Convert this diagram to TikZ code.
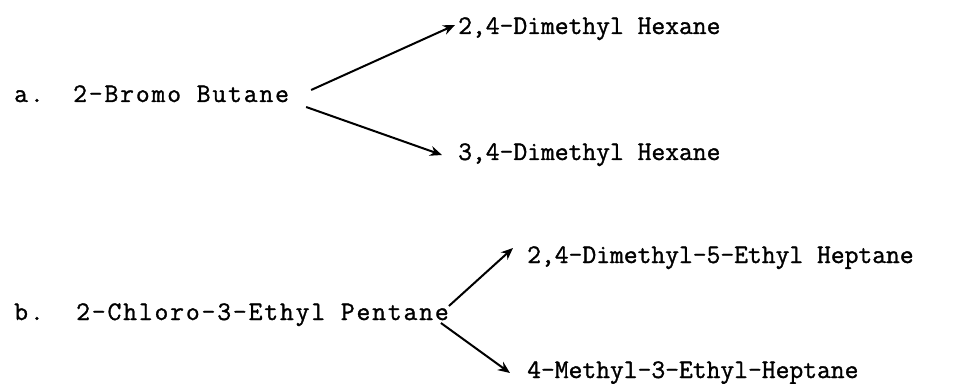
\documentclass[tikz,border=0pt]{standalone}
\usepackage{fontspec}
\usetikzlibrary{arrows.meta, positioning}
\newfontfamily\prodfont[FakeBold=1.2]{Latin Modern Mono}
\newfontfamily\reacfont[LetterSpace=7, FakeBold=1.2]{Latin Modern Mono}

\tikzset{
  reactant/.style={anchor=base west, inner sep=0pt, font=\fontsize{26.8}{31}\reacfont},
  product/.style={anchor=base west, inner sep=0pt, font=\fontsize{26.8}{31}\prodfont},
  rxn/.style={-{Stealth[length=12pt,width=10pt]}, line width=2pt}
}

\begin{document}
\begin{tikzpicture}[x=1pt, y=1pt]
\useasboundingbox (0,0) rectangle (973,383);
% part a
\node[reactant] (laba) at (14,281) {a.};
\node[reactant] (bromo) at (73,281) {2-Bromo Butane};
\node[product] (dmhtwo) at (458,349) {2,4-Dimethyl Hexane};
\node[product] (dmhthree) at (458,223) {3,4-Dimethyl Hexane};
\draw[rxn] ([shift={(22,12)}]bromo.base east) -- ([shift={(-3,9)}]dmhtwo.base west);
\draw[rxn] ([shift={(17,-5)}]bromo.base east) -- ([shift={(-16,5)}]dmhthree.base west);
% part b
\node[reactant] (labb) at (14,63) {b.};
\node[reactant] (chloro) at (76,63) {2-Chloro-3-Ethyl Pentane};
\node[product] (dmeh) at (527,120) {2,4-Dimethyl-5-Ethyl Heptane};
\node[product] (meh) at (527,5) {4-Methyl-3-Ethyl-Heptane};
\draw[rxn] ([shift={(0,14)}]chloro.base east) -- ([shift={(-14,15)}]dmeh.base west);
\draw[rxn] ([shift={(-8,-3)}]chloro.base east) -- ([shift={(-17,5)}]meh.base west);
\end{tikzpicture}
\end{document}
